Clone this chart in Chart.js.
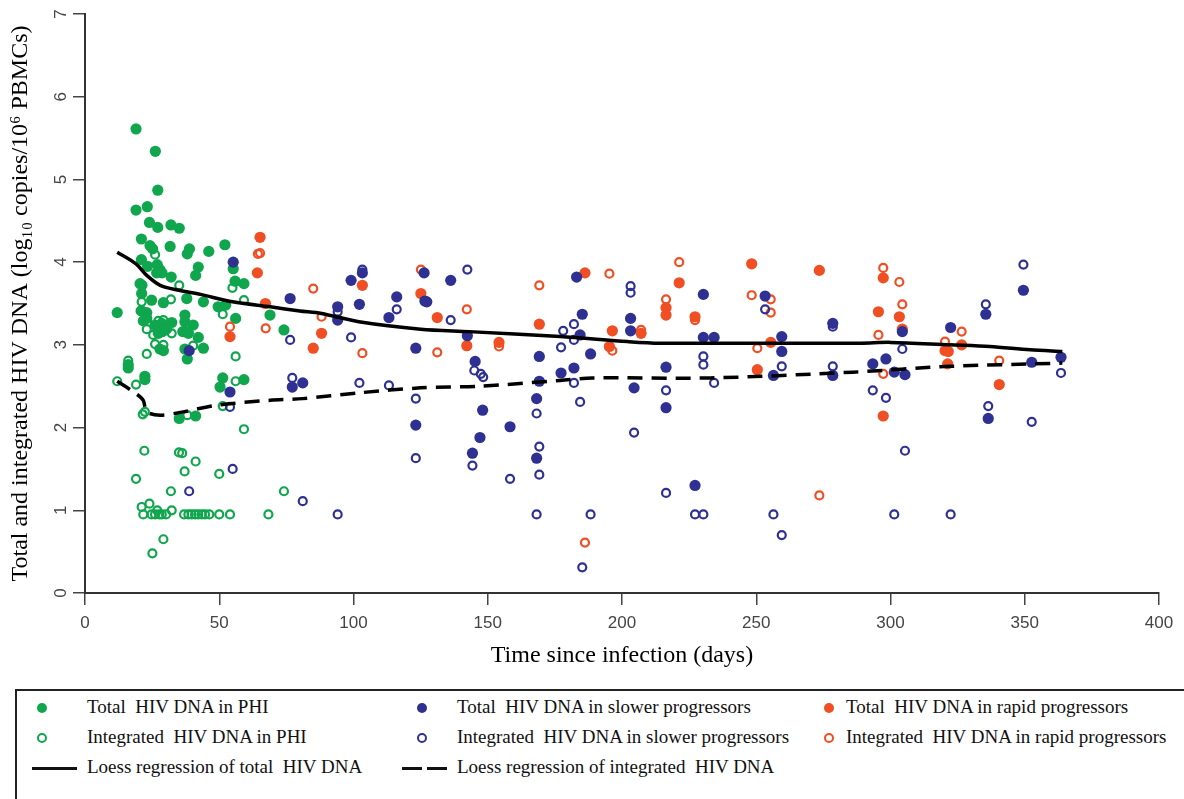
<!DOCTYPE html>
<html>
<head>
<meta charset="utf-8">
<script src="https://cdn.jsdelivr.net/npm/chart.js@4/dist/chart.umd.min.js"></script>
<style>
  html, body { margin:0; padding:0; background:#fff; }
  #wrap { position:relative; width:1184px; height:799px; overflow:hidden; }
  #c { position:absolute; left:0; top:0; }
  #legend { position:absolute; left:15px; top:689px; width:1200px; height:140px;
            border:2px solid #222; box-sizing:border-box;
            font-family:"Liberation Serif","Times New Roman",serif; font-size:19px; color:#111; }
  .item { position:absolute; white-space:nowrap; line-height:20px; }
  .mk { position:absolute; box-sizing:border-box; border-radius:50%; }
  .ln { position:absolute; height:3px; background:#111; }
</style>
</head>
<body>
<div id="wrap">
  <canvas id="c" width="1184" height="680"></canvas>
  <div id="legend"></div>
</div>
<script>
// ---------------- data (days since infection, log10 copies/10^6 PBMCs) ----------------
const xTicks = [0, 50, 100, 150, 200, 250, 300, 350, 400];
const yTicks = [0, 1, 2, 3, 4, 5, 6, 7];

const phiTotal = [
  [19.0,5.61],[26.2,5.34],[27.1,4.87],[19.0,4.63],[23.2,4.67],[24.0,4.48],[27.1,4.42],[32.0,4.45],[35.1,4.41],
  [21.0,4.28],[24.2,4.20],[25.2,4.16],[31.7,4.19],[38.9,4.16],[38.1,4.10],[46.1,4.13],[52.1,4.21],[21.0,4.03],
  [23.3,3.95],[26.9,3.97],[27.9,3.91],[28.7,3.87],[26.7,3.87],[42.2,3.94],[41.2,3.84],[32.1,3.82],[55.2,3.92],
  [21.2,3.72],[20.5,3.74],[21.1,3.62],[24.8,3.54],[29.2,3.51],[37.9,3.56],[44.1,3.52],[49.6,3.46],[52.4,3.48],
  [55.9,3.77],[59.2,3.74],[12.0,3.39],[21.1,3.41],[23.0,3.39],[21.7,3.29],[23.0,3.32],[26.1,3.24],[28.6,3.26],
  [30.4,3.19],[32.3,3.27],[28.9,3.16],[27.3,3.14],[37.2,3.36],[37.2,3.28],[40.3,3.24],[36.4,3.16],[38.5,3.14],
  [42.2,3.09],[27.9,2.95],[29.2,2.93],[37.2,2.95],[38.1,2.83],[44.1,2.96],[16.1,2.76],[16.1,2.72],[22.3,2.62],
  [22.3,2.58],[51.3,2.60],[50.3,2.49],[59.2,2.58],[35.1,2.11],[41.2,2.14],[68.9,3.36],[74.1,3.18],[56.1,3.32]
];
const phiIntegrated = [
  [26.1,4.09],[35.1,3.72],[32.0,3.55],[21.1,3.52],[54.9,3.69],[59.2,3.54],[12.0,2.56],[19.0,2.52],[16.1,2.81],
  [23.0,2.89],[26.1,3.01],[29.2,3.00],[25.4,3.12],[23.0,3.19],[20.7,3.41],[32.3,3.14],[27.3,3.29],[29.2,3.30],
  [38.5,3.16],[40.3,2.99],[51.3,3.37],[56.1,2.86],[56.1,2.56],[51.3,2.26],[21.5,2.16],[22.3,2.19],[38.1,2.15],
  [59.2,1.98],[22.1,1.72],[35.0,1.70],[36.2,1.69],[41.2,1.59],[37.1,1.47],[50.0,1.44],[19.0,1.38],[32.0,1.23],
  [74.1,1.23],[21.1,1.04],[24.0,1.08],[26.9,1.00],[32.3,1.00],[21.7,0.95],[24.8,0.95],[26.1,0.95],[27.7,0.95],
  [28.6,0.95],[30.2,0.95],[36.9,0.95],[38.5,0.95],[39.7,0.95],[41.0,0.95],[42.2,0.95],[43.5,0.95],[44.7,0.95],
  [46.3,0.95],[50.0,0.95],[54.0,0.95],[68.3,0.95],[29.2,0.65],[25.1,0.48]
];
const slowTotal = [
  [55.2,4.00],[38.8,2.93],[54.0,2.43],[76.4,3.56],[99.1,3.78],[103.3,3.87],[102.2,3.49],[94.1,3.46],[94.1,3.30],
  [116.1,3.58],[113.2,3.33],[126.3,3.87],[126.6,3.53],[127.3,3.52],[136.2,3.78],[123.2,2.96],[142.4,3.11],
  [145.3,2.80],[148.1,2.21],[147.1,1.88],[144.3,1.69],[158.3,2.01],[123.2,2.03],[77.2,2.49],[81.1,2.54],
  [169.2,2.86],[168.2,2.35],[168.2,1.63],[177.3,2.66],[169.2,2.56],[183.1,3.82],[185.2,3.37],[184.4,3.12],
  [182.1,2.72],[188.3,2.89],[203.2,3.32],[203.2,3.17],[204.5,2.48],[216.4,2.73],[216.4,2.24],[230.3,3.61],
  [230.3,3.09],[234.3,3.09],[227.2,1.30],[253.3,3.59],[259.5,3.10],[259.5,2.92],[256.4,2.63],[278.5,3.26],
  [278.5,2.63],[293.4,2.77],[298.3,2.83],[301.4,2.67],[305.4,2.64],[304.4,3.16],[322.4,3.21],[335.5,3.37],
  [336.4,2.11],[349.5,3.66],[352.6,2.79],[363.5,2.85]
];
const slowIntegrated = [
  [54.0,2.25],[55.0,1.50],[38.8,1.23],[76.4,3.06],[77.2,2.60],[102.2,2.54],[99.1,3.09],[116.1,3.43],[113.2,2.51],
  [142.4,3.91],[136.2,3.30],[123.2,2.35],[123.2,1.63],[145.0,2.69],[147.4,2.65],[148.3,2.61],[144.3,1.54],
  [158.3,1.38],[81.1,1.11],[94.1,0.95],[168.2,2.17],[169.2,1.77],[169.2,1.43],[168.2,0.95],[178.1,3.17],
  [177.3,2.97],[94.1,3.40],[103.3,3.91],[182.1,3.25],[182.1,3.06],[182.1,2.54],[184.4,2.31],[188.3,0.95],
  [185.2,0.31],[203.2,3.71],[203.2,3.63],[204.5,1.94],[216.4,2.45],[216.4,1.21],[230.3,2.86],[230.3,2.76],
  [234.3,2.54],[227.2,0.95],[230.3,0.95],[253.3,3.43],[259.5,2.74],[256.4,0.95],[259.5,0.70],[278.5,3.22],
  [278.5,2.74],[304.4,2.95],[293.4,2.45],[298.3,2.36],[305.4,1.72],[301.4,0.95],[322.4,0.95],[335.5,3.49],
  [336.4,2.26],[349.5,3.97],[352.6,2.07],[363.5,2.66]
];
const rapidTotal = [
  [65.2,4.30],[64.2,3.87],[67.2,3.50],[54.0,3.10],[103.3,3.72],[88.1,3.14],[85.0,2.96],[125.1,3.62],[131.2,3.33],
  [142.2,2.99],[154.2,3.03],[169.2,3.25],[186.2,3.87],[195.3,2.98],[196.4,3.17],[207.1,3.14],[221.3,3.75],
  [216.4,3.45],[216.4,3.36],[227.2,3.34],[248.3,3.98],[250.4,2.70],[255.4,3.03],[273.5,3.90],[297.3,3.81],
  [295.5,3.40],[303.3,3.34],[304.4,3.19],[297.3,2.14],[320.3,2.93],[321.5,2.92],[321.3,2.77],[326.5,3.00],
  [340.5,2.52]
];
const rapidIntegrated = [
  [64.4,4.10],[65.2,4.11],[67.3,3.20],[54.0,3.22],[85.0,3.68],[88.1,3.34],[103.3,2.90],[131.2,2.91],[142.2,3.43],
  [154.2,2.98],[169.2,3.72],[125.1,3.91],[195.3,3.86],[196.4,2.93],[207.1,3.18],[221.3,4.00],[216.4,3.55],
  [227.2,3.30],[248.3,3.60],[250.4,2.96],[255.4,3.55],[255.4,3.39],[186.2,0.61],[273.5,1.18],[297.3,3.93],
  [303.3,3.76],[304.4,3.49],[295.5,3.12],[297.3,2.65],[320.3,3.04],[326.5,3.16],[340.5,2.81]
];
const loessTotalDays = [12, 19, 23, 28, 35, 43, 55, 69, 80, 88, 102, 125, 143, 177, 202, 214, 250, 289, 300, 322, 337, 352, 364];
const loessTotalVals = [4.12, 3.98, 3.84, 3.72, 3.66, 3.61, 3.52, 3.46, 3.41, 3.38, 3.28, 3.19, 3.16, 3.10, 3.04, 3.02, 3.02, 3.02, 3.03, 3.00, 2.98, 2.94, 2.92];
const loessIntDays = [12, 19, 21.7, 23, 28, 36.6, 49, 69, 81, 102, 125, 147, 177, 189, 233, 286, 322, 364];
const loessIntVals = [2.56, 2.41, 2.33, 2.19, 2.15, 2.19, 2.27, 2.33, 2.35, 2.42, 2.48, 2.50, 2.57, 2.60, 2.60, 2.67, 2.74, 2.78];

const GREEN = '#0fa64d', BLUE = '#2e3192', RED = '#f04e23';

// ---------------- chart ----------------
const toXY = arr => arr.map(p => ({x: p[0], y: p[1]}));
const zip = (xs, ys) => xs.map((x, i) => ({x: x, y: ys[i]}));
const filled = (label, data, color) => ({
  type: 'scatter', label, data: toXY(data), pointRadius: 5.6, pointHoverRadius: 5.6,
  backgroundColor: color, borderColor: color, borderWidth: 0
});
const open = (label, data, color) => ({
  type: 'scatter', label, data: toXY(data), pointRadius: 4, pointHoverRadius: 4,
  backgroundColor: 'rgba(0,0,0,0)', borderColor: color, borderWidth: 2.2
});

new Chart(document.getElementById('c'), {
  type: 'scatter',
  data: {
    datasets: [
      { type: 'line', label: 'Loess regression of total HIV DNA', data: zip(loessTotalDays, loessTotalVals),
        borderColor: '#000', borderWidth: 3.5, pointRadius: 0, tension: 0.3, fill: false },
      { type: 'line', label: 'Loess regression of integrated HIV DNA', data: zip(loessIntDays, loessIntVals),
        borderColor: '#000', borderWidth: 3.5, borderDash: [15, 9], pointRadius: 0, tension: 0.3, fill: false },
      filled('Total HIV DNA in slower progressors', slowTotal, BLUE),
      open('Integrated HIV DNA in slower progressors', slowIntegrated, BLUE),
      filled('Total HIV DNA in rapid progressors', rapidTotal, RED),
      open('Integrated HIV DNA in rapid progressors', rapidIntegrated, RED),
      filled('Total HIV DNA in PHI', phiTotal, GREEN),
      open('Integrated HIV DNA in PHI', phiIntegrated, GREEN)
    ]
  },
  options: {
    responsive: false, animation: false,
    layout: { padding: { top: 14, right: 25, left: 0, bottom: 0 } },
    plugins: { legend: { display: false }, tooltip: { enabled: false } },
    scales: {
      x: {
        type: 'linear', min: 0, max: 400,
        afterBuildTicks: s => { s.ticks = xTicks.map(v => ({value: v})); },
        afterFit: s => { s.height = 87; },
        grid: { drawOnChartArea: false, drawTicks: true, tickLength: 12, color: '#444', lineWidth: 1.5 },
        border: { display: true, color: '#333', width: 2 },
        ticks: { padding: 8, color: '#444', font: { family: 'Liberation Sans, Arial, sans-serif', size: 17 }, maxRotation: 0 },
        title: { display: true, text: 'Time since infection (days)', color: '#000',
                 font: { family: 'Liberation Serif, Times New Roman, serif', size: 24 }, padding: { top: 0, bottom: 10 } }
      },
      y: {
        type: 'linear', min: 0, max: 7,
        afterBuildTicks: s => { s.ticks = yTicks.map(v => ({value: v})); },
        afterFit: s => { s.width = 85; s.paddingTop = 0; s.paddingBottom = 0; },
        grid: { drawOnChartArea: false, drawTicks: true, tickLength: 12, color: '#444', lineWidth: 1.5 },
        border: { display: true, color: '#333', width: 2 },
        ticks: { padding: 7, crossAlign: 'center', minRotation: 90, maxRotation: 90, color: '#444',
                 font: { family: 'Liberation Sans, Arial, sans-serif', size: 17 } },
        title: { display: true, text: 'Total and integrated HIV DNA (log\u2081\u2080 copies/10\u2076 PBMCs)', color: '#000',
                 font: { family: 'Liberation Serif, Times New Roman, serif', size: 24 }, padding: { top: 6, bottom: 0 } }
      }
    }
  }
});

// ---------------- legend (HTML) ----------------
const legendItems = [
  { kind: 'dot',  color: GREEN, text: 'Total  HIV DNA in PHI', mx: 25, tx: 70, row: 0 },
  { kind: 'ring', color: GREEN, text: 'Integrated  HIV DNA in PHI', mx: 25, tx: 70, row: 1 },
  { kind: 'line', text: 'Loess regression of total  HIV DNA', mx: 15, tx: 70, row: 2 },
  { kind: 'dot',  color: BLUE, text: 'Total  HIV DNA in slower progressors', mx: 405, tx: 440, row: 0 },
  { kind: 'ring', color: BLUE, text: 'Integrated  HIV DNA in slower progressors', mx: 405, tx: 440, row: 1 },
  { kind: 'dash', text: 'Loess regression of integrated  HIV DNA', mx: 385, tx: 440, row: 2 },
  { kind: 'dot',  color: RED, text: 'Total  HIV DNA in rapid progressors', mx: 812, tx: 829, row: 0 },
  { kind: 'ring', color: RED, text: 'Integrated  HIV DNA in rapid progressors', mx: 812, tx: 829, row: 1 }
];
const lg = document.getElementById('legend');
const rowY = [17, 47, 77];
legendItems.forEach(it => {
  const cy = rowY[it.row];
  if (it.kind === 'dot' || it.kind === 'ring') {
    const m = document.createElement('div');
    m.className = 'mk';
    m.style.width = '10px'; m.style.height = '10px';
    m.style.left = (it.mx - 5) + 'px'; m.style.top = (cy - 5) + 'px';
    if (it.kind === 'dot') m.style.background = it.color;
    else m.style.border = '2px solid ' + it.color;
    lg.appendChild(m);
  } else if (it.kind === 'line') {
    const l = document.createElement('div');
    l.className = 'ln'; l.style.left = it.mx + 'px'; l.style.width = '45px'; l.style.top = (cy - 1) + 'px';
    lg.appendChild(l);
  } else {
    [0, 25].forEach(off => {
      const l = document.createElement('div');
      l.className = 'ln'; l.style.left = (it.mx + off) + 'px'; l.style.width = '20px'; l.style.top = (cy - 1) + 'px';
      lg.appendChild(l);
    });
  }
  const t = document.createElement('div');
  t.className = 'item'; t.style.left = it.tx + 'px'; t.style.top = (cy - 11) + 'px';
  t.style.whiteSpace = 'pre';
  t.textContent = it.text;
  lg.appendChild(t);
});
</script>
</body>
</html>
